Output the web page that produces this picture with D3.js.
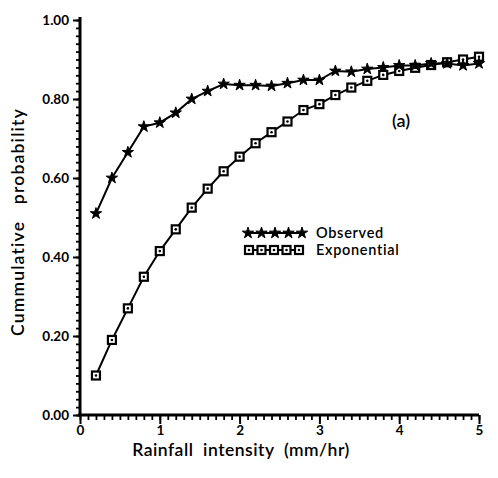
<!DOCTYPE html>
<html><head><meta charset="utf-8">
<script src="https://cdn.jsdelivr.net/npm/d3@7/dist/d3.min.js"></script>
<style>body{margin:0;background:#fff}svg{display:block}text{white-space:pre}</style>
</head><body><svg id="c" width="498" height="478"></svg>
<script>
const xValues = [0.2,0.4,0.6,0.8,1.0,1.2,1.4,1.6,1.8,2.0,2.2,2.4,2.6,2.8,3.0,3.2,3.4,3.6,3.8,4.0,4.2,4.4,4.6,4.8,5.0];
const observed = [0.51,0.60,0.665,0.73,0.74,0.765,0.80,0.82,0.838,0.835,0.835,0.833,0.84,0.848,0.848,0.871,0.869,0.876,0.88,0.885,0.885,0.89,0.89,0.885,0.89];
const exponential = [0.10,0.19,0.27,0.35,0.415,0.47,0.525,0.573,0.617,0.654,0.688,0.716,0.743,0.772,0.787,0.81,0.829,0.846,0.861,0.871,0.879,0.886,0.893,0.90,0.907];
const xTickLabels = ["0","1","2","3","4","5"];
const yTickLabels = ["0.00","0.20","0.40","0.60","0.80","1.00"];
const seriesNames = ["Observed","Exponential"];

const svg = d3.select("#c");
const x = d3.scaleLinear().domain([0,5]).range([80,479]);
const y = d3.scaleLinear().domain([0,1]).range([415,20]);
const font = "Lato, 'DejaVu Sans', sans-serif";

// y axis
const yAxis = d3.axisLeft(y).tickValues(d3.range(0,1.0001,0.2)).tickSize(7)
  .tickFormat((d,i)=>yTickLabels[i]).tickPadding(4);
const gy = svg.append("g").attr("transform",`translate(${x(0)},0)`).call(yAxis);
gy.select(".domain").attr("stroke","#000").attr("stroke-width",3).attr("d",`M0,${y(1)-3}V${y(0)}`);
gy.selectAll(".tick line").attr("stroke-width",2);
gy.selectAll("text").attr("font-family",font).attr("font-weight","bold").attr("font-size",13.5).attr("fill","#000");
const yMinor = d3.axisLeft(y).tickValues(d3.range(0,1.0001,0.02)).tickSize(4).tickFormat("");
const gym = svg.append("g").attr("transform",`translate(${x(0)},0)`).call(yMinor);
gym.select(".domain").remove();
gym.selectAll(".tick line").attr("stroke-width",1.8);

// x axis
const xAxis = d3.axisBottom(x).tickValues(d3.range(0,5.0001,1)).tickSize(9)
  .tickFormat((d,i)=>xTickLabels[i]).tickPadding(1);
const gx = svg.append("g").attr("transform",`translate(0,${y(0)})`).call(xAxis);
gx.select(".domain").attr("stroke","#000").attr("stroke-width",3).attr("d",`M${x(0)-2},0H${x(5)}`);
gx.selectAll(".tick line").attr("stroke-width",2);
gx.selectAll("text").attr("font-family",font).attr("font-weight","bold").attr("font-size",13.5).attr("fill","#000");
const xMinor = d3.axisBottom(x).tickValues(d3.range(0,5.0001,0.1)).tickSize(5).tickFormat("");
const gxm = svg.append("g").attr("transform",`translate(0,${y(0)})`).call(xMinor);
gxm.select(".domain").remove();
gxm.selectAll(".tick line").attr("stroke-width",1.8);

// axis titles
svg.append("text").attr("x",241).attr("y",456).attr("text-anchor","middle")
  .attr("font-family",font).attr("font-weight",600).attr("font-size",17.5).attr("letter-spacing",0.5).text("Rainfall  intensity  (mm/hr)");
svg.append("text").attr("transform","translate(24,222) rotate(-90)").attr("text-anchor","middle")
  .attr("font-family",font).attr("font-weight",600).attr("font-size",17.5).attr("letter-spacing",1.2).text("Cummulative   probability");

const line = d3.line().x(d=>x(d[0])).y(d=>y(d[1]));
const obsData = xValues.map((v,i)=>[v,observed[i]]);
const expData = xValues.map((v,i)=>[v,exponential[i]]);

function star(g, cx, cy){
  g.append("path").attr("d",d3.symbol(d3.symbolStar,40)()).attr("transform",`translate(${cx},${cy})`)
   .attr("fill","#000").attr("stroke","#000").attr("stroke-width",1);
}
function sq(g, cx, cy){
  g.append("rect").attr("x",cx-4).attr("y",cy-4).attr("width",8).attr("height",8)
   .attr("fill","#fff").attr("stroke","#000").attr("stroke-width",2.2);
  g.append("circle").attr("cx",cx).attr("cy",cy).attr("r",1.3).attr("fill","#000");
}

svg.append("path").datum(expData).attr("d",line).attr("fill","none").attr("stroke","#000").attr("stroke-width",2);
svg.append("path").datum(obsData).attr("d",line).attr("fill","none").attr("stroke","#000").attr("stroke-width",2);
const gm = svg.append("g");
expData.forEach(d=>sq(gm, x(d[0]), y(d[1])));
obsData.forEach(d=>star(gm, x(d[0]), y(d[1])));

// legend
const lg = svg.append("g");
const legY = [233, 250];
lg.append("line").attr("x1",246).attr("x2",304).attr("y1",legY[0]).attr("y2",legY[0]).attr("stroke","#000").attr("stroke-width",2);
lg.append("line").attr("x1",246).attr("x2",304).attr("y1",legY[1]).attr("y2",legY[1]).attr("stroke","#000").attr("stroke-width",2);
d3.range(5).forEach(i=>{ star(lg, 248+i*13.5, legY[0]); });
d3.range(5).forEach(i=>{ sq(lg, 249+i*12.5, legY[1]); });
seriesNames.forEach((n,i)=>{
  lg.append("text").attr("x",316).attr("y",legY[i]+5).attr("font-family",font).attr("font-weight",600).attr("font-size",14.5).attr("letter-spacing",0.7).text(n);
});

svg.append("text").attr("x",401).attr("y",127).attr("text-anchor","middle").attr("font-family",font).attr("font-weight",600).attr("font-size",18).text("(a)");
</script></body></html>
